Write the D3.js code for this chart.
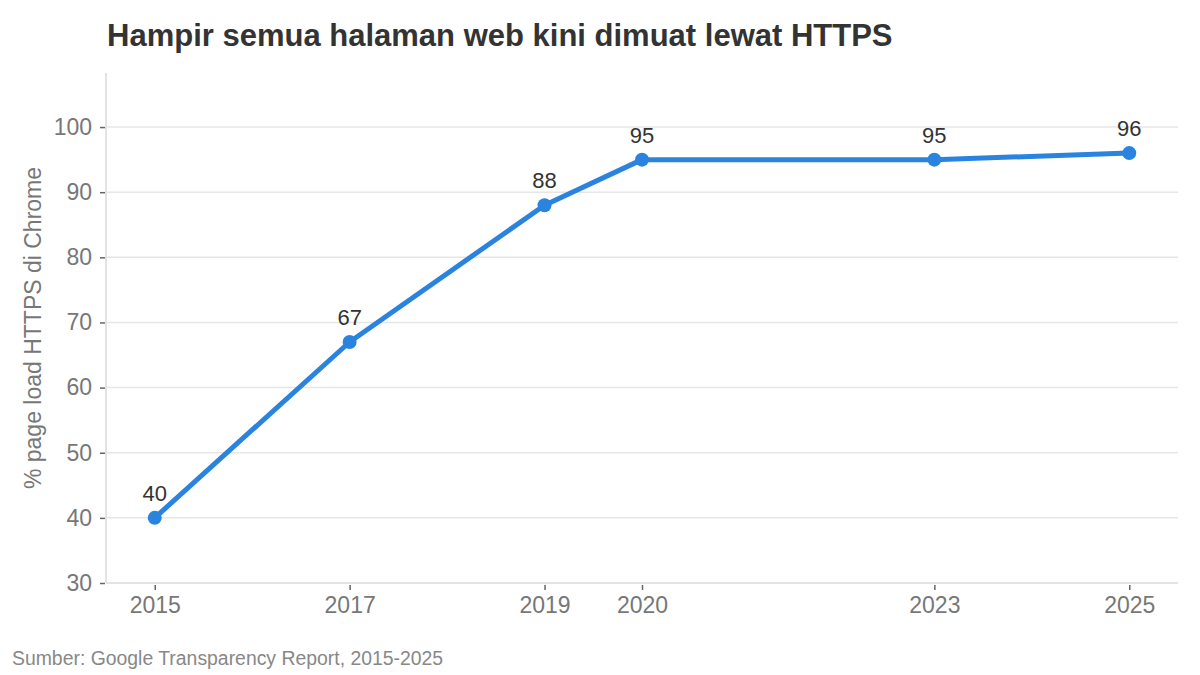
<!DOCTYPE html>
<html lang="id">
  <head>
    <meta charset="UTF-8" />
    <title>Hampir semua halaman web kini dimuat lewat HTTPS</title>
    <style>
      body { margin: 0; background: #fff; font-family: "Liberation Sans", Arial, sans-serif; }
      svg { display: block; }
    </style>
  </head>
  <body>
    <svg id="chart"></svg>
    <script src="https://cdn.jsdelivr.net/npm/d3@7"></script>
    <script>
      const years = [2015, 2017, 2019, 2020, 2023, 2025];
      const httpsShare = [40, 67, 88, 95, 95, 96];
      const yTicks = [30, 40, 50, 60, 70, 80, 90, 100];

      const width = 1200;
      const height = 675;
      const margin = { top: 73, right: 22, bottom: 92, left: 106 };

      const svg = d3.select("#chart").attr("width", width).attr("height", height);

      const x = d3.scaleLinear().domain([2014.5, 2025.5]).range([margin.left, width - margin.right]);
      const y = d3.scaleLinear().domain([30, 108.3]).range([height - margin.bottom, margin.top]);

      const data = years.map((yr, i) => ({ year: yr, value: httpsShare[i] }));

      // gridlines
      svg.append("g")
        .selectAll("line")
        .data(yTicks.slice(1))
        .join("line")
        .attr("x1", margin.left)
        .attr("x2", width - margin.right)
        .attr("y1", (d) => y(d))
        .attr("y2", (d) => y(d))
        .attr("stroke", "#e6e6e6")
        .attr("stroke-width", 1.5);

      // axis lines
      svg.append("line")
        .attr("x1", margin.left).attr("x2", margin.left)
        .attr("y1", margin.top).attr("y2", height - margin.bottom)
        .attr("stroke", "#e3e3e3").attr("stroke-width", 2);
      svg.append("line")
        .attr("x1", margin.left).attr("x2", width - margin.right)
        .attr("y1", height - margin.bottom).attr("y2", height - margin.bottom)
        .attr("stroke", "#e3e3e3").attr("stroke-width", 2);

      // y axis
      const yAxis = svg.append("g")
        .attr("transform", `translate(${margin.left - 1},0)`)
        .call(d3.axisLeft(y).tickValues(yTicks).tickSize(5).tickPadding(8));
      yAxis.select(".domain").remove();
      yAxis.selectAll(".tick line").attr("stroke", "#666").attr("stroke-width", 1.5);
      yAxis.selectAll(".tick text")
        .attr("fill", "#777")
        .style("font-size", "23px")
        .style("font-family", "'Liberation Sans', Arial, sans-serif");

      // x axis
      const xAxis = svg.append("g")
        .attr("transform", `translate(0,${height - margin.bottom + 2})`)
        .call(d3.axisBottom(x).tickValues(years).tickFormat(d3.format("d")).tickSize(5).tickPadding(7));
      xAxis.select(".domain").remove();
      xAxis.selectAll(".tick line").attr("stroke", "#666").attr("stroke-width", 1.5);
      xAxis.selectAll(".tick text")
        .attr("fill", "#777")
        .style("font-size", "23px")
        .style("font-family", "'Liberation Sans', Arial, sans-serif");

      // line
      const line = d3.line().x((d) => x(d.year)).y((d) => y(d.value));
      svg.append("path")
        .datum(data)
        .attr("d", line)
        .attr("fill", "none")
        .attr("stroke", "#2a84df")
        .attr("stroke-width", 5)
        .attr("stroke-linejoin", "round");

      svg.append("g")
        .selectAll("circle")
        .data(data)
        .join("circle")
        .attr("cx", (d) => x(d.year))
        .attr("cy", (d) => y(d.value))
        .attr("r", 7)
        .attr("fill", "#2a84df");

      svg.append("g")
        .selectAll("text")
        .data(data)
        .join("text")
        .attr("x", (d) => x(d.year))
        .attr("y", (d) => y(d.value) - 17)
        .attr("text-anchor", "middle")
        .attr("fill", "#333")
        .style("font-size", "22px")
        .text((d) => d.value);

      // title
      svg.append("text")
        .attr("x", 107)
        .attr("y", 46)
        .attr("fill", "#333")
        .style("font-size", "31px")
        .style("font-weight", "bold")
        .text("Hampir semua halaman web kini dimuat lewat HTTPS");

      // y label
      svg.append("text")
        .attr("transform", `translate(41,${(margin.top + height - margin.bottom) / 2}) rotate(-90)`)
        .attr("text-anchor", "middle")
        .attr("fill", "#777")
        .style("font-size", "23px")
        .text("% page load HTTPS di Chrome");

      // source
      svg.append("text")
        .attr("x", 12)
        .attr("y", 665)
        .attr("fill", "#888")
        .style("font-size", "19.4px")
        .text("Sumber: Google Transparency Report, 2015-2025");
    </script>
  </body>
</html>
